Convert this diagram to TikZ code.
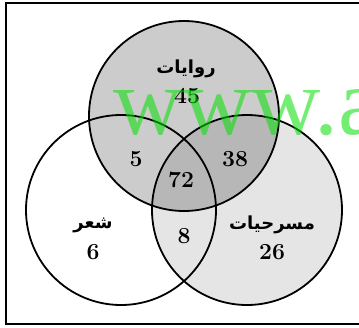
\documentclass[tikz,border=0pt]{standalone}
\usepackage{fontspec}
\usepackage{tikz}
\TeXXeTstate=1
\newfontfamily\arabicfont[Script=Arabic]{DejaVu Sans}
\newfontfamily\markfont{Liberation Serif}
\definecolor{markgreen}{HTML}{00E000}
\newcommand{\ar}[1]{\arabicfont\beginR #1\endR}
\tikzset{
  setring/.style  = {circle, draw=black, line width=1.8pt, minimum size=190pt, inner sep=0pt},
  count/.style    = {font=\fontsize{23}{23}\selectfont\bfseries, inner sep=1pt},
  setname/.style  = {font=\fontsize{18}{18}\selectfont\bfseries, inner sep=1pt},
}

\begin{document}
\begin{tikzpicture}[x=1pt, y=-1pt]
  \useasboundingbox (0,0) rectangle (359,327);
  \clip (0,0) rectangle (359,327);

  %% ---- frame and the three sets ----------------------------------------------------------
  \draw[line width=1.2pt] (6,3) rectangle (380,324);
  \node[setring, fill=black, fill opacity=0.2] (novels) at (184,116) {};
  \node[setring, fill=black, fill opacity=0.1] (plays)  at (247,210) {};
  \node[setring] (poems) at (121,210) {};

  % set names
  \node[setname] (novelsname) at (186,69)  {\ar{روايات}};
  \node[setname] (poemsname)  at (93,225)  {\ar{شعر}};
  \node[setname] (playsname)  at (272,225) {\ar{مسرحيات}};

  % counts in each region
  \foreach \n/\x/\y in {45/187/96, 5/136/159, 38/235/159, 72/181/180, 6/93/252, 8/184/236, 26/272/252} {
    \node[count] (n\n) at (\x,\y) {\n};
  }

  % watermark
  \node[anchor=base west, inner sep=0pt, text=markgreen, text opacity=0.55,
        font=\markfont\fontsize{96}{96}\selectfont] (mark) at (113,134) {www.a};
\end{tikzpicture}
\end{document}
